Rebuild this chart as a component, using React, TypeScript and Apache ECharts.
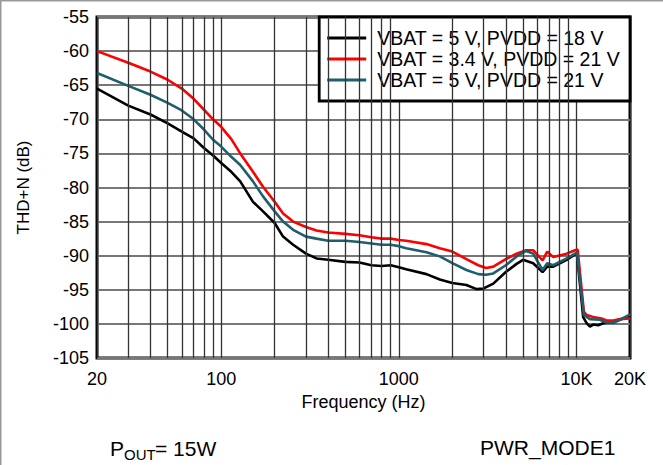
import React, { useEffect, useRef } from "react";
import * as echarts from "echarts";

const FONT = "'Liberation Sans', Arial, Helvetica, sans-serif";

const seriesNames = [
  "VBAT = 5 V, PVDD = 18 V",
  "VBAT = 3.4 V, PVDD = 21 V",
  "VBAT = 5 V, PVDD = 21 V",
];
const seriesColors = ["#000000", "#ff0000", "#1f5e6d"];

// VBAT = 5 V, PVDD = 18 V (black)
const blackFreq = [
  20, 30, 40, 50, 60, 70, 80, 90, 100, 114, 128, 151, 172, 200, 223, 254, 300, 344, 400, 500, 600, 700, 800, 900,
  1000, 1100, 1430, 1700, 2000, 2400, 2740, 3000, 3400, 4000, 4600, 5000, 5700, 6440, 6840, 7400, 8800, 9800, 10050,
  10900, 11400, 11900, 12400, 13240, 14140, 15080, 16100, 17540, 20000,
];
const blackVals = [
  -65.5, -68.0, -69.3, -70.6, -71.8, -72.8, -74.2, -75.3, -76.4, -77.7, -79.1, -82.1, -83.5, -85.2, -87.2, -88.4,
  -89.7, -90.4, -90.6, -90.9, -91.0, -91.4, -91.5, -91.4, -91.7, -92.0, -92.7, -93.5, -94.0, -94.3, -94.9, -94.8,
  -94.1, -92.4, -91.2, -90.6, -91.1, -92.4, -91.6, -91.6, -90.6, -89.8, -89.6, -99.0, -99.9, -100.4, -100.1, -100.2,
  -99.9, -99.8, -99.8, -99.4, -98.8,
];

// VBAT = 3.4 V, PVDD = 21 V (red)
const redFreq = [
  20, 30, 40, 50, 60, 70, 80, 90, 100, 114, 128, 151, 172, 200, 223, 254, 300, 344, 400, 500, 600, 700, 800, 900,
  1000, 1100, 1430, 1700, 2000, 2400, 2800, 3100, 3400, 4000, 4600, 5200, 5700, 6440, 6840, 7400, 8800, 9800, 10150,
  11000, 11400, 12400, 13840, 14760, 16100, 17540, 20000,
];
const redVals = [
  -60.0, -61.7, -63.0, -64.2, -65.5, -67.0, -68.6, -70.0, -71.1, -72.9, -75.0, -77.7, -79.9, -82.1, -83.8, -85.0,
  -85.8, -86.3, -86.6, -86.8, -87.0, -87.3, -87.5, -87.5, -87.7, -87.8, -88.3, -88.9, -89.4, -90.5, -91.4, -91.8,
  -91.6, -90.5, -89.7, -89.2, -89.2, -90.7, -89.4, -90.2, -89.7, -89.2, -89.1, -98.2, -98.7, -99.0, -99.2, -99.5,
  -99.5, -99.3, -99.2,
];

// VBAT = 5 V, PVDD = 21 V (teal)
const tealFreq = [
  20, 30, 40, 50, 60, 70, 80, 90, 100, 114, 128, 151, 172, 200, 223, 254, 300, 344, 400, 500, 600, 700, 800, 900,
  1000, 1100, 1430, 1700, 2000, 2400, 2800, 3100, 3400, 4000, 4600, 5200, 5700, 6440, 6840, 7400, 8800, 9800, 10050,
  11000, 11900, 13540, 14760, 16100, 17540, 20000,
];
const tealVals = [
  -63.2, -65.1, -66.4, -67.6, -68.7, -70.0, -71.5, -73.0, -74.0, -75.5, -76.7, -79.1, -81.3, -83.5, -85.0, -86.2,
  -87.2, -87.5, -87.8, -87.8, -88.0, -88.2, -88.4, -88.4, -88.6, -88.9, -89.5, -90.1, -91.1, -92.1, -92.7, -92.8,
  -92.6, -91.4, -90.1, -89.3, -89.7, -92.1, -91.1, -91.4, -90.4, -89.7, -89.5, -98.7, -99.3, -99.4, -99.8, -99.8,
  -99.4, -98.6,
];

// vertical minor grid lines of the log axis
const minorGridFreqs = [
  30, 40, 50, 60, 70, 80, 90, 200, 300, 400, 500, 600, 700, 800, 900, 2000, 3000, 4000, 5000, 6000, 7000, 8000, 9000,
];

const yMin = -105;
const yMax = -55;
const yStep = 5;
const xMin = 20;
const xMax = 20000;

function pairs(f: number[], v: number[]) {
  return f.map((x, i) => [x, v[i]]);
}

function fmtFreq(value: number) {
  const v = Math.round(value);
  if (v >= 10000) return Math.round(v / 1000) + "K";
  return String(v);
}

function textEl(text: string, x: number, y: number, size: number) {
  return {
    type: "text",
    x,
    y,
    style: {
      text,
      fontSize: size,
      fontFamily: FONT,
      fill: "#000",
      textAlign: "left",
      textVerticalAlign: "middle",
      align: "left",
      verticalAlign: "middle",
    },
  };
}

export default function App() {
  const ref = useRef<HTMLDivElement>(null);

  useEffect(() => {
    const chart = echarts.init(ref.current!, undefined, { renderer: "svg" });
    const lineSeries = [
      pairs(blackFreq, blackVals),
      pairs(redFreq, redVals),
      pairs(tealFreq, tealVals),
    ].map((data, i) => ({
      type: "line",
      name: seriesNames[i],
      data,
      symbol: "none",
      showSymbol: false,
      z: 3,
      lineStyle: { color: seriesColors[i], width: 2.6 },
      itemStyle: { color: seriesColors[i] },
      emphasis: { disabled: true },
    }));

    chart.setOption({
      animation: false,
      backgroundColor: "#ffffff",
      textStyle: { fontFamily: FONT },
      grid: {
        left: 97,
        right: 33,
        top: 17,
        bottom: 107,
        show: true,
        borderColor: "#000",
        borderWidth: 3,
        backgroundColor: "transparent",
        containLabel: false,
      },
      legend: {
        orient: "vertical",
        right: 33,
        top: 17,
        data: seriesNames,
        icon: "rect",
        backgroundColor: "#fff",
        borderColor: "#000",
        borderWidth: 2.8,
        borderRadius: 0,
        padding: [11, 10, 11, 8],
        itemGap: 1,
        itemWidth: 39,
        itemHeight: 3,
        selectedMode: false,
        textStyle: { fontSize: 19.5, color: "#000", fontFamily: FONT, padding: [0, 0, 0, 6] },
      },
      xAxis: {
        type: "log",
        logBase: 10,
        min: xMin,
        max: xMax,
        name: "Frequency (Hz)",
        nameLocation: "middle",
        nameGap: 26,
        nameTextStyle: { fontSize: 18, color: "#000", fontFamily: FONT },
        axisLine: { show: false },
        axisTick: { show: false },
        axisLabel: {
          fontSize: 18,
          color: "#000",
          fontFamily: FONT,
          margin: 12,
          formatter: (v: number) => fmtFreq(v),
        },
        splitLine: { show: true, lineStyle: { color: "#333", width: 1.3 } },
      },
      yAxis: {
        type: "value",
        min: yMin,
        max: yMax,
        interval: yStep,
        name: "THD+N (dB)",
        nameLocation: "middle",
        nameGap: 65,
        nameTextStyle: { fontSize: 17, color: "#000", fontFamily: FONT },
        axisLine: { show: false },
        axisTick: { show: false },
        axisLabel: { fontSize: 18, color: "#000", fontFamily: FONT, margin: 8 },
        splitLine: { show: true, lineStyle: { color: "#777", width: 2 } },
      },
      series: [
        {
          type: "line",
          name: "grid",
          data: [],
          z: 1,
          silent: true,
          markLine: {
            silent: true,
            symbol: ["none", "none"],
            label: { show: false },
            lineStyle: { color: "#333", width: 1.3, type: "solid" },
            emphasis: { disabled: true },
            data: minorGridFreqs.map((f) => ({ xAxis: f })),
          },
        },
        ...lineSeries,
      ],
      graphic: [
        {
          type: "line",
          shape: { x1: 0, y1: 0.75, x2: 663, y2: 0.75 },
          style: { stroke: "#999", lineWidth: 1.5 },
        },
        {
          type: "line",
          shape: { x1: 0.75, y1: 0, x2: 0.75, y2: 465 },
          style: { stroke: "#999", lineWidth: 1.5 },
        },
        textEl("P", 110, 448, 21),
        textEl("OUT", 124, 454, 15),
        textEl("= 15W", 155, 448, 21),
        textEl("PWR_MODE1", 480, 447, 21),
      ],
    });
    return () => chart.dispose();
  }, []);

  return (
    <div
      ref={ref}
      style={{ position: "fixed", left: 0, top: 0, width: 663, height: 465, background: "#fff" }}
    />
  );
}
